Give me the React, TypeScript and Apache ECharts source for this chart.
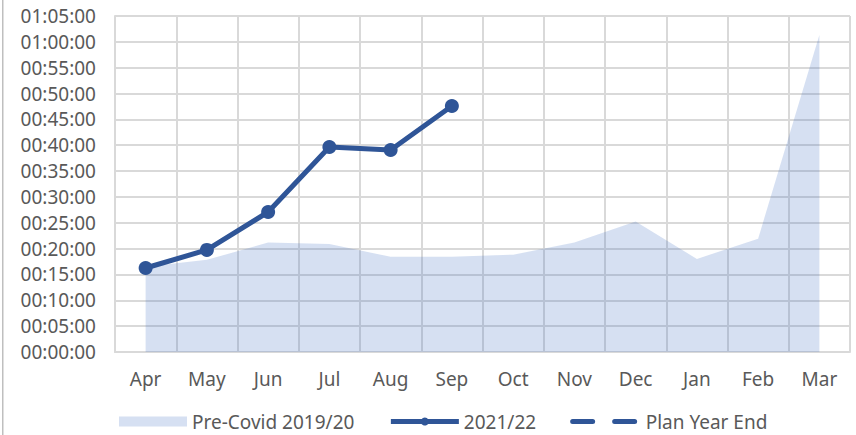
import React, { useEffect, useRef } from "react";
import * as echarts from "echarts";

const months = ["Apr", "May", "Jun", "Jul", "Aug", "Sep", "Oct", "Nov", "Dec", "Jan", "Feb", "Mar"];
const preCovid = ["00:16:30", "00:17:50", "00:21:10", "00:20:55", "00:18:25", "00:18:25", "00:18:50", "00:21:10", "00:25:15", "00:18:00", "00:21:55", "01:01:20"];
const fy2122 = ["00:16:15", "00:19:45", "00:27:05", "00:39:40", "00:39:05", "00:47:35"];
const planYearEnd: (string | null)[] = [];
const yTickStep = 300;
const yMax = 3900;

const toSec = (s: string) => {
  const [h, m, x] = s.split(":").map(Number);
  return h * 3600 + m * 60 + x;
};
const pad = (n: number) => String(n).padStart(2, "0");
const fmt = (v: number) => {
  const h = Math.floor(v / 3600);
  const m = Math.floor((v % 3600) / 60);
  const s = Math.round(v % 60);
  return `${pad(h)}:${pad(m)}:${pad(s)}`;
};

const FONT = "Noto Sans";
const TXT = "#595959";
const GRID = "#D9D9D9";
const BLUE = "#2F5597";
const FS = 19;

export default function App() {
  const ref = useRef<HTMLDivElement>(null);
  useEffect(() => {
    if (!ref.current) return;
    const chart = echarts.init(ref.current, undefined, { renderer: "svg" });
    chart.setOption({
      animation: false,
      textStyle: { fontFamily: FONT },
      grid: { left: 115, right: 6, top: 16, bottom: 83, containLabel: false },
      graphic: [
        { type: "rect", shape: { x: 2, y: 0, width: 1.5, height: 435 }, style: { fill: "#BFBFBF" } },
      ],
      legend: {
        left: 114,
        top: 407,
        itemWidth: 68,
        itemHeight: 10,
        itemGap: 34,
        textStyle: { color: TXT, fontSize: FS, fontFamily: FONT },
        data: [
          { name: "Pre-Covid 2019/20", icon: "rect" },
          { name: "2021/22", lineStyle: { width: 5, color: BLUE } },
          {
            name: "Plan Year End",
            itemStyle: { opacity: 0 },
            lineStyle: { width: 5, color: BLUE, type: [20, 22], cap: "round", opacity: 1 },
          },
        ],
      },
      xAxis: {
        type: "category",
        data: months,
        boundaryGap: true,
        axisLine: { show: true, lineStyle: { color: GRID, width: 2 } },
        axisTick: { show: false },
        splitLine: { show: true, lineStyle: { color: GRID, width: 2 } },
        axisLabel: { color: TXT, fontSize: FS, fontFamily: FONT, margin: 17, interval: 0 },
      },
      yAxis: {
        type: "value",
        min: 0,
        max: yMax,
        interval: yTickStep,
        axisLine: { show: true, lineStyle: { color: GRID, width: 2 } },
        axisTick: { show: false },
        splitLine: { show: true, lineStyle: { color: GRID, width: 2 } },
        axisLabel: { color: TXT, fontSize: FS, fontFamily: FONT, margin: 19, formatter: (v: number) => fmt(v) },
      },
      series: [
        {
          name: "Pre-Covid 2019/20",
          type: "line",
          data: preCovid.map(toSec),
          symbol: "none",
          lineStyle: { width: 0 },
          itemStyle: { color: "#D6E0F2" },
          areaStyle: { color: "#4472C4", opacity: 0.22 },
          z: 1,
        },
        {
          name: "2021/22",
          type: "line",
          data: fy2122.map(toSec),
          symbol: "circle",
          symbolSize: 14,
          lineStyle: { width: 5, color: BLUE },
          itemStyle: { color: BLUE },
          z: 3,
        },
        {
          name: "Plan Year End",
          type: "line",
          data: planYearEnd,
          symbol: "none",
          lineStyle: { width: 5, color: BLUE, type: [20, 22], cap: "round" },
          itemStyle: { color: BLUE },
        },
      ],
    });
    return () => chart.dispose();
  }, []);
  return <div ref={ref} style={{ width: 856, height: 435, position: "absolute", left: 0, top: 0 }} />;
}
